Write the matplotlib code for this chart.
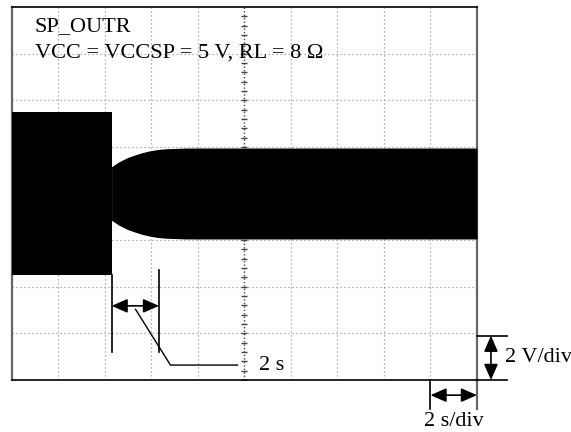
import matplotlib.pyplot as plt
import numpy as np

plt.rcParams['font.family'] = ['Liberation Serif', 'DejaVu Serif']

# burst before the step (s, V peak)
burst_t = [0.0, 4.3]
burst_amp = [3.49, 3.49]

# envelope after the step (s, V peak)
env_t = [4.3, 4.6, 5.0, 5.2, 5.6, 5.94, 6.3, 6.67, 7.5, 20.0]
env_amp = [1.15, 1.35, 1.55, 1.62, 1.75, 1.83, 1.89, 1.92, 1.95, 1.95]

t_div = 2.0   # s/div
v_div = 2.0   # V/div

fig = plt.figure(figsize=(5.71, 4.32), dpi=100)
ax = fig.add_axes([11.5 / 571, 52 / 432, 465.5 / 571, 373 / 432])
ax.set_xlim(0, 10 * t_div)
ax.set_ylim(-4 * v_div, 4 * v_div)

# scope graticule
grid_kw = dict(color='#999999', lw=0.9, ls=(0, (1, 2.2)), zorder=1)
for gx in np.arange(t_div, 10 * t_div, t_div):
    if gx != 5 * t_div:
        ax.axvline(gx, **grid_kw)
for gy in np.arange(-3 * v_div, 4 * v_div, v_div):
    if gy != 0:
        ax.axhline(gy, **grid_kw)
ax.axvline(5 * t_div, color='#444444', lw=1.0, ls=(0, (1, 1.5)), zorder=1)
ax.axhline(0, color='#444444', lw=1.0, ls=(0, (1, 1.5)), zorder=1)
minor_y = np.arange(-4 * v_div, 4 * v_div, v_div / 5)
minor_x = np.arange(0, 10 * t_div, t_div / 5)
ax.plot(np.full_like(minor_y, 5 * t_div), minor_y, ls='none', marker='_',
        ms=5, mew=1.0, color='#444444', zorder=1)
ax.plot(minor_x, np.zeros_like(minor_x), ls='none', marker='|',
        ms=5, mew=1.0, color='#444444', zorder=1)

# signal
burst_amp = np.array(burst_amp)
env_amp = np.array(env_amp)
ax.fill_between(burst_t, -burst_amp, burst_amp, color='black', lw=0, zorder=3)
ax.fill_between(env_t, -env_amp, env_amp, color='black', lw=0, zorder=3)

ax.set_xticks([])
ax.set_yticks([])
for side in ['left', 'right']:
    ax.spines[side].set_color('#666666')
    ax.spines[side].set_linewidth(1.6)
for side in ['top', 'bottom']:
    ax.spines[side].set_color('black')
    ax.spines[side].set_linewidth(1.2)

ax.text(1.0, 6.95, 'SP_OUTR', fontsize=16, va='baseline', zorder=5)
ax.text(1.0, 5.85, 'VCC = VCCSP = 5 V, RL = 8 Ω', fontsize=16,
        va='baseline', zorder=5)

line_kw = dict(color='black', lw=1.2, clip_on=False, zorder=4)
arrow_kw = dict(arrowstyle='<|-|>,head_length=0.8,head_width=0.35',
                color='black', lw=1.2, shrinkA=0, shrinkB=0, mutation_scale=12)

# 2 s marker
t0, t1 = burst_t[-1], 6.34
ax.plot([t0, t0], [-burst_amp[-1], -6.79], **line_kw)
ax.plot([t1, t1], [-3.28, -6.79], **line_kw)
ax.annotate('', xy=(t1, -4.82), xytext=(t0, -4.82), arrowprops=arrow_kw)
ax.plot([5.33, 6.83, 9.71], [-4.97, -7.36, -7.36], color='black', lw=1.0,
        zorder=4)
ax.text(10.65, -7.36, '2 s', fontsize=16, va='center', zorder=5)

# V/div scale, right of the screen
ax.plot([20.0, 21.3], [-6.1, -6.1], **line_kw)
ax.plot([20.0, 21.3], [-8.0, -8.0], **line_kw)
ax.annotate('', xy=(20.6, -8.0), xytext=(20.6, -6.1),
            arrowprops=arrow_kw, annotation_clip=False)
ax.text(21.2, -7.05, '2 V/div', fontsize=16, va='center', ha='left')

# s/div scale, below the screen
ax.plot([18.0, 18.0], [-8.0, -9.25], **line_kw)
ax.plot([20.0, 20.0], [-8.0, -9.25], color='#666666', lw=1.6, clip_on=False)
ax.annotate('', xy=(20.0, -8.65), xytext=(18.0, -8.65),
            arrowprops=arrow_kw, annotation_clip=False)
ax.text(19.0, -9.8, '2 s/div', fontsize=16, va='center', ha='center')

fig.savefig('out.png', dpi=100)
